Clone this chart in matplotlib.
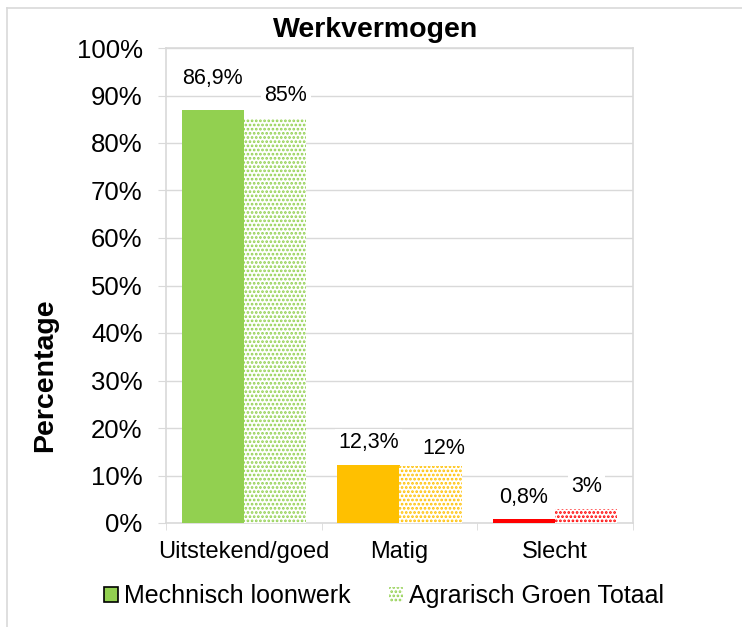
import numpy as np
import matplotlib
matplotlib.use("Agg")
import matplotlib.pyplot as plt
from matplotlib.patches import Patch
from matplotlib.lines import Line2D

plt.rcParams['font.family'] = ['Liberation Sans', 'DejaVu Sans']
plt.rcParams['hatch.linewidth'] = 1.3

# data
categories = ["Uitstekend/goed", "Matig", "Slecht"]
mechanisch = [0.869, 0.123, 0.008]
agrarisch = [0.85, 0.12, 0.03]
mech_labels = ["86,9%", "12,3%", "0,8%"]
agr_labels = ["85%", "12%", "3%"]
colors = ["#92D050", "#FFC000", "#FF0000"]
series_names = ["Mechnisch loonwerk", "Agrarisch Groen Totaal"]

grid_col = "#D9D9D9"

fig = plt.figure(figsize=(7.42, 6.27), dpi=100)
ax = fig.add_axes([166/742, 1 - 523/627, 467/742, 475/627])

x = np.arange(len(categories))
w = 0.4
bars1 = ax.bar(x - w/2, mechanisch, w, color=colors, linewidth=0, zorder=3)
bars2 = ax.bar(x + w/2, agrarisch, w, color="white", edgecolor=colors,
               hatch="....", linewidth=0, zorder=3)

ax.set_xlim(-0.5, len(categories) - 0.5)
ax.set_ylim(0, 1)
ax.set_yticks(np.arange(0, 1.01, 0.1))
ax.set_yticklabels([f"{int(round(v*100))}%" for v in np.arange(0, 1.01, 0.1)], fontsize=18.5)
ax.set_xticks(x)
ax.set_xticklabels(categories, fontsize=17)
ax.set_xticks(np.arange(-0.5, len(categories)), minor=True)
ax.tick_params(axis='x', which='major', length=0, pad=13)
ax.tick_params(axis='x', which='minor', length=5, color=grid_col, direction='out')
ax.tick_params(axis='y', length=5.8, color=grid_col, pad=11)
ax.grid(axis='y', color=grid_col, linewidth=1, zorder=0)
ax.set_axisbelow(True)
for s in ax.spines.values():
    s.set_color(grid_col)
    s.set_linewidth(1.2)

# data labels (offsets in pixels from bar top center)
mech_off = [(0, 32), (0, 22), (0, 22)]
agr_off = [(11, 24), (13, 18), (0, 22)]
box = dict(boxstyle="square,pad=0.15", facecolor="white", edgecolor="none")
for b, lab, off in zip(bars1, mech_labels, mech_off):
    ax.annotate(lab, (b.get_x() + b.get_width()/2, b.get_height()), xytext=off,
                textcoords="offset pixels", ha="center", va="center",
                fontsize=15.5, bbox=box, zorder=5)
for b, lab, off in zip(bars2, agr_labels, agr_off):
    ax.annotate(lab, (b.get_x() + b.get_width()/2, b.get_height()), xytext=off,
                textcoords="offset pixels", ha="center", va="center",
                fontsize=15.5, bbox=box, zorder=5)

fig.text(376/742, 1 - 30/627, "Werkvermogen", ha="center", va="center",
         fontsize=20.5, fontweight="bold")
fig.text(45/742, 1 - 375/627, "Percentage", ha="center", va="center",
         rotation=90, fontsize=20.5, fontweight="bold")

handles = [Patch(facecolor=colors[0], edgecolor="black", linewidth=1.2),
           Patch(facecolor="white", edgecolor=colors[0], hatch="....", linewidth=0)]
fig.legend(handles, series_names, loc="center", bbox_to_anchor=(384/742, 1 - 596/627),
           ncol=2, frameon=False, fontsize=18, handlelength=0.56, handleheight=0.56,
           handletextpad=0.25, columnspacing=1.5, borderaxespad=0, borderpad=0)

# outer chart border
fig.add_artist(Line2D([7/742, 7/742], [0, 1 - 8/627], color=grid_col, linewidth=1.2,
                      transform=fig.transFigure))
fig.add_artist(Line2D([7/742, 1], [1 - 8/627, 1 - 8/627], color=grid_col, linewidth=1.2,
                      transform=fig.transFigure))

fig.savefig("out.png", dpi=100)
